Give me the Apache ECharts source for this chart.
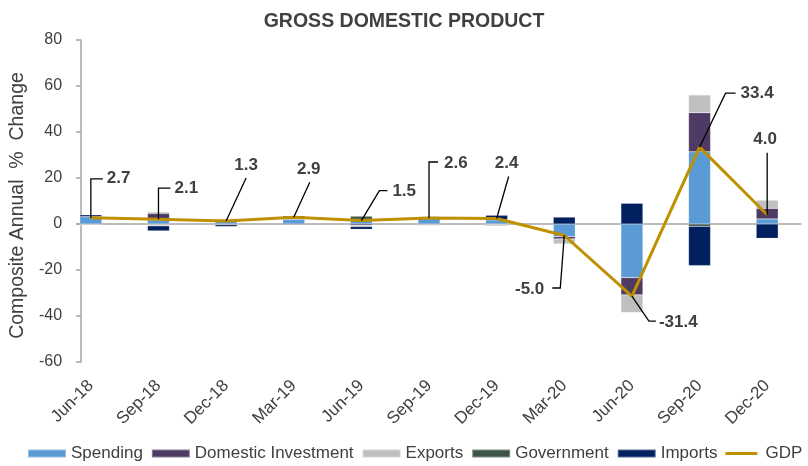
<!DOCTYPE html>
<html>
<head>
<meta charset="utf-8">
<script src="https://cdn.jsdelivr.net/npm/echarts@6/dist/echarts.min.js"></script>
<style>
html,body{margin:0;padding:0;background:#fff;}
#chart{width:808px;height:466px;}
</style>
</head>
<body>
<div id="chart"></div>
<script>
// ---- data ----
const categories = ['Jun-18','Sep-18','Dec-18','Mar-19','Jun-19','Sep-19','Dec-19','Mar-20','Jun-20','Sep-20','Dec-20'];
const spending   = [3.2, 1.8, 1.8, 2.0, 2.0, 3.2, 1.8, -5.5, -23.3, 31.4, 2.2];
const investment = [0.0, 2.7, -0.3, 0.4, -0.6, 0.0, -0.2, -1.0, -7.5, 17.0, 4.6];
const exportsC   = [-0.5, -0.8, 0.6, 0.0, -0.5, -0.7, -0.7, -2.2, -7.7, 7.7, 3.6];
const government = [0.0, 0.5, 0.0, 0.3, 1.4, 0.0, 0.0, 0.0, 0.0, -1.0, 0.0];
const imports    = [0.8, -2.2, -0.8, 0.8, -1.2, 0.0, 2.0, 3.0, 9.0, -17.1, -6.2];
const gdp        = [2.7, 2.1, 1.3, 2.9, 1.5, 2.6, 2.4, -5.0, -31.4, 33.4, 4.0];
const yTicks = {min: -60, max: 80, step: 20};

// ---- label leader layout (pixel offsets from each GDP point) ----
const guides = [
  {pts: [[0,-39],[12,-39]], txt: [16,-39], align: 'left'},
  {pts: [[0,-31],[12,-31]], txt: [16,-31], align: 'left'},
  {pts: [[20,-43]], txt: [20,-56], align: 'center'},
  {pts: [[16,-35]], txt: [15,-48], align: 'center'},
  {pts: [[18,-30],[26,-30]], txt: [31,-29], align: 'left'},
  {pts: [[0,-56],[9,-56]], txt: [15,-55], align: 'left'},
  {pts: [[12,-42]], txt: [10,-55], align: 'center'},
  {pts: [[-4,52.5],[-12,52.5]], txt: [-20,54], align: 'right'},
  {pts: [[17,25],[24,25]], txt: [27,26], align: 'left'},
  {pts: [[26,-54],[36,-54]], txt: [41,-54], align: 'left'},
  {pts: [[0,-62]], txt: [-2,-75], align: 'center'}
];

const FONT = "'Liberation Sans', Arial, sans-serif";
const TXT = '#404040';
const AXIS = '#a6a6a6';

const chart = echarts.init(document.getElementById('chart'), null, {renderer: 'canvas'});

function barSeries(name, data, color) {
  return {
    name: name, type: 'bar', stack: 'total', data: data,
    xAxisIndex: 0, yAxisIndex: 0,
    barWidth: 22,
    itemStyle: {color: color, borderColor: 'rgba(255,255,255,0.35)', borderWidth: 0.5},
    emphasis: {disabled: true}
  };
}

const option = {
  animation: false,
  backgroundColor: '#ffffff',
  textStyle: {fontFamily: FONT},
  title: {
    text: 'GROSS DOMESTIC PRODUCT', left: 'center', top: 7,
    textStyle: {fontFamily: FONT, fontSize: 19.5, fontWeight: 'bold', color: TXT}
  },
  legend: {
    left: 27, top: 445, width: 800, padding: 0,
    itemWidth: 38, itemHeight: 8, itemGap: 8,
    textStyle: {fontFamily: FONT, fontSize: 17, color: TXT},
    data: [
      {name: 'Spending', icon: 'rect'},
      {name: 'Domestic Investment', icon: 'rect'},
      {name: 'Exports', icon: 'rect'},
      {name: 'Government', icon: 'rect'},
      {name: 'Imports', icon: 'rect'},
      {name: 'GDP', icon: 'path://M0,0 L40,0 L40,0.05 L0,0.05 Z M0,3.2 L40,3.2 L40,6.8 L0,6.8 Z M0,9.95 L40,9.95 L40,10 L0,10 Z'}
    ]
  },
  grid: [
    {left: 53, right: 7, top: 40, bottom: 104},
    {left: 77, right: 7, top: 40, bottom: 104}
  ],
  xAxis: [
    {
      type: 'category', gridIndex: 0, data: categories,
      axisLine: {show: false, onZero: false},
      axisTick: {show: false},
      axisLabel: {rotate: 45, margin: 21, fontFamily: FONT, fontSize: 17, color: TXT},
      splitLine: {show: false}
    },
    {
      type: 'category', gridIndex: 1, data: categories,
      axisLine: {show: true, onZero: true, lineStyle: {color: AXIS, width: 1.5}},
      axisTick: {show: false}, axisLabel: {show: false}, splitLine: {show: false}
    }
  ],
  yAxis: [
    {
      type: 'value', gridIndex: 0, min: yTicks.min, max: yTicks.max, interval: yTicks.step,
      offset: -24,
      name: 'Composite Annual  %  Change', nameLocation: 'middle', nameGap: 45,
      nameTextStyle: {fontFamily: FONT, fontSize: 19.5, color: TXT, padding: [0, 9, 0, 0]},
      axisLine: {show: true, lineStyle: {color: AXIS, width: 1.5}},
      axisTick: {show: true, inside: false, length: 5, lineStyle: {color: AXIS, width: 1.5}},
      axisLabel: {margin: 19, fontFamily: FONT, fontSize: 16, color: TXT},
      splitLine: {show: false}
    },
    {
      type: 'value', gridIndex: 1, min: yTicks.min, max: yTicks.max, interval: yTicks.step,
      show: false, splitLine: {show: false}
    }
  ],
  series: [
    barSeries('Spending', spending, '#5b9bd5'),
    barSeries('Domestic Investment', investment, '#4e3a62'),
    barSeries('Exports', exportsC, '#bfbfbf'),
    barSeries('Government', government, '#3d5446'),
    barSeries('Imports', imports, '#002060'),
    {
      name: 'GDP', type: 'line', data: gdp, xAxisIndex: 0, yAxisIndex: 0,
      symbol: 'none', showSymbol: false, z: 5,
      lineStyle: {color: '#bf9000', width: 3},
      itemStyle: {color: '#bf9000'},
      emphasis: {disabled: true}
    },
    {
      name: 'GDP labels', type: 'custom', xAxisIndex: 0, yAxisIndex: 0, z: 10, silent: true,
      data: gdp.map((v, i) => [i, v]),
      renderItem: function (params, api) {
        const i = params.dataIndex;
        const p = api.coord([api.value(0), api.value(1)]);
        const g = guides[i];
        const points = [[p[0], p[1]]].concat(g.pts.map(d => [p[0] + d[0], p[1] + d[1]]));
        return {
          type: 'group',
          children: [
            {type: 'polyline', shape: {points: points}, style: {stroke: '#000', lineWidth: 1.3, fill: null}},
            {type: 'text', x: p[0] + g.txt[0], y: p[1] + g.txt[1],
             style: {text: gdp[i].toFixed(1), align: g.align, verticalAlign: 'middle',
                     fontFamily: FONT, fontSize: 17, fontWeight: 'bold', fill: TXT}}
          ]
        };
      }
    }
  ]
};
chart.setOption(option);
</script>
</body>
</html>
